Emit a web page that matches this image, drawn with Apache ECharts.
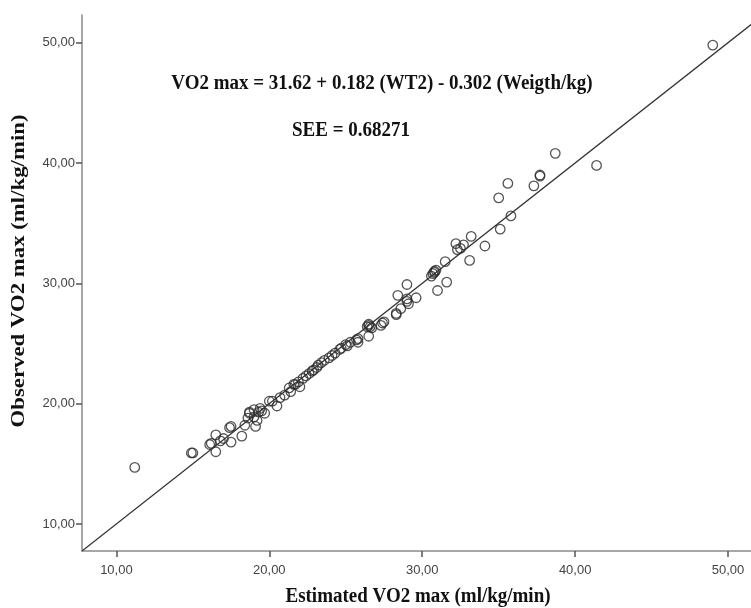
<!DOCTYPE html>
<html>
<head>
<meta charset="utf-8">
<script src="https://cdn.jsdelivr.net/npm/echarts@6/dist/echarts.min.js"></script>
<style>
  html, body { margin: 0; padding: 0; background: #fff; }
  #chart { width: 751px; height: 608px; }
</style>
</head>
<body>
<div id="chart"></div>
<script>
// estimated VO2 max (x) vs observed VO2 max (y)
var estimated = [
  11.2, 14.9, 15.0, 16.1, 16.2, 16.5, 16.5, 16.8, 17.0, 17.4, 17.5, 17.5, 18.2, 18.4, 18.6,
  18.7, 18.7, 19.0, 19.0, 19.1, 19.2, 19.3, 19.4, 19.5, 19.7, 20.0, 20.2, 20.5, 20.7, 21.0,
  21.3, 21.4, 21.6, 21.7, 21.9, 22.0, 22.2, 22.4, 22.6, 22.8, 22.9, 23.1, 23.2, 23.4, 23.6,
  23.9, 24.1, 24.3, 24.6, 24.7, 25.0, 25.1, 25.3, 25.7, 25.8, 25.8, 26.4, 26.5, 26.5, 26.6,
  26.7, 26.5, 27.3, 27.4, 27.5, 28.3, 28.3, 28.6, 28.4, 29.0, 29.0, 29.0, 29.1, 29.6, 30.6,
  30.7, 30.8, 30.9, 30.8, 31.0, 31.6, 31.5, 32.2, 32.3, 32.5, 32.7, 33.1, 33.2, 34.1, 35.0,
  35.1, 35.6, 35.8, 37.3, 37.7, 37.7, 38.7, 41.4, 49.0
];
var observed = [
  14.7, 15.9, 15.9, 16.6, 16.7, 17.4, 16.0, 16.9, 17.1, 18.0, 18.1, 16.8, 17.3, 18.2, 18.8,
  19.3, 19.2, 18.9, 19.5, 18.1, 18.6, 19.3, 19.6, 19.4, 19.2, 20.2, 20.2, 19.8, 20.5, 20.7,
  21.3, 21.0, 21.6, 21.6, 21.8, 21.4, 22.1, 22.3, 22.5, 22.7, 22.8, 23.0, 23.2, 23.4, 23.6,
  23.8, 24.0, 24.2, 24.5, 24.6, 24.9, 24.8, 25.1, 25.3, 25.4, 25.1, 26.4, 26.5, 26.6, 26.4,
  26.3, 25.6, 26.5, 26.7, 26.8, 27.4, 27.5, 27.9, 29.0, 28.5, 28.7, 29.9, 28.3, 28.8, 30.6,
  30.8, 31.0, 31.1, 30.9, 29.4, 30.1, 31.8, 33.3, 32.8, 32.9, 33.2, 31.9, 33.9, 33.1, 37.1,
  34.5, 38.3, 35.6, 38.1, 38.9, 39.0, 40.8, 39.8, 49.8
];
var tickValues = [10, 20, 30, 40, 50];
var fitLine = [7.75, 52.3];   // y = x reference line ends
var equationText = 'VO2 max = 31.62 + 0.182 (WT2) - 0.302 (Weigth/kg)';
var seeText = 'SEE = 0.68271';

var points = estimated.map(function (x, i) { return [x, observed[i]]; });

function fmt(v) { return v.toFixed(2).replace('.', ','); }

var chart = echarts.init(document.getElementById('chart'));
var labelStyle = { fontFamily: 'Liberation Sans', fontSize: 13, color: '#444' };
var serif = 'bold 19px "Liberation Serif"';
chart.setOption({
  animation: false,
  backgroundColor: '#fff',
  grid: { left: 82, top: 15, right: 0, bottom: 57 },
  xAxis: {
    type: 'value', min: 7.75, max: 51.5,
    splitLine: { show: false },
    axisLine: { show: true, lineStyle: { color: '#8a8a8a', width: 1.5 } },
    axisTick: { show: true, customValues: tickValues, length: 6, lineStyle: { color: '#555', width: 1.5 } },
    axisLabel: Object.assign({ customValues: tickValues, margin: 13, formatter: fmt }, labelStyle)
  },
  yAxis: {
    type: 'value', min: 7.75, max: 52.3,
    splitLine: { show: false },
    axisLine: { show: true, lineStyle: { color: '#8a8a8a', width: 1.5 } },
    axisTick: { show: true, customValues: tickValues, length: 6, lineStyle: { color: '#555', width: 1.5 } },
    axisLabel: Object.assign({ customValues: tickValues, margin: 7, formatter: fmt }, labelStyle)
  },
  graphic: [
    { type: 'text', x: 418, y: 597, scaleY: 1.12,
      style: { text: 'Estimated VO2 max (ml/kg/min)', font: serif, fill: '#111',
        align: 'center', verticalAlign: 'middle' } },
    { type: 'text', x: 19, y: 271, rotation: Math.PI / 2, scaleX: 1.2,
      style: { text: 'Observed VO2 max (ml/kg/min)', font: serif, fill: '#111',
        align: 'center', verticalAlign: 'middle' } },
    { type: 'text', x: 382, y: 84, scaleY: 1.12,
      style: { text: equationText, font: serif, fill: '#111',
        align: 'center', verticalAlign: 'middle' } },
    { type: 'text', x: 351, y: 131, scaleY: 1.12,
      style: { text: seeText, font: serif, fill: '#111',
        align: 'center', verticalAlign: 'middle' } }
  ],
  series: [
    {
      type: 'line',
      data: [[fitLine[0], fitLine[0]], [fitLine[1], fitLine[1]]],
      symbol: 'none',
      lineStyle: { color: '#333', width: 1.2 },
      silent: true
    },
    {
      type: 'scatter',
      data: points,
      symbol: 'circle',
      symbolSize: 9.5,
      itemStyle: { color: 'transparent', borderColor: '#2a2a2a', borderWidth: 1.3 }
    }
  ]
});
</script>
</body>
</html>
